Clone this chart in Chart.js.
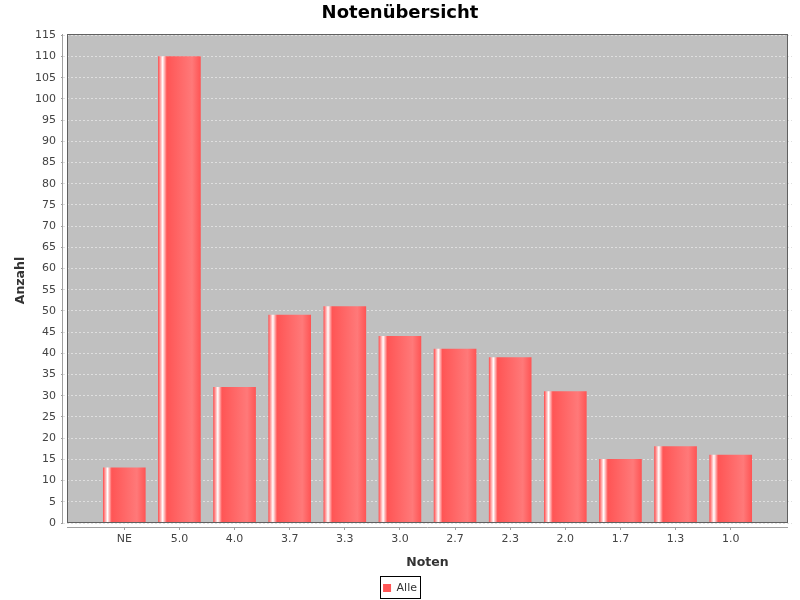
<!DOCTYPE html>
<html>
<head>
<meta charset="utf-8">
<script src="https://cdn.jsdelivr.net/npm/chart.js@4"></script>
<style>
html,body{margin:0;padding:0;background:#fff;}
#wrap{width:800px;height:600px;}
</style>
</head>
<body>
<div id="wrap"><canvas id="c" width="800" height="600"></canvas></div>
<script>
const categories = ['NE','5.0','4.0','3.7','3.3','3.0','2.7','2.3','2.0','1.7','1.3','1.0'];
const counts = [13,110,32,49,51,44,41,39,31,15,18,16];
const yTickValues = [0,5,10,15,20,25,30,35,40,45,50,55,60,65,70,75,80,85,90,95,100,105,110,115];
const seriesName = 'Alle';
const chartTitle = 'Notenübersicht';
const xTitle = 'Noten';
const yTitle = 'Anzahl';

const BASE = '#ff5555';
const LIGHT = '#ff7979';
const BAR_W = 42;
const INSET = 4; // gap between axes and plot area

const plotPlugin = {
  id: 'plotArea',
  beforeDraw(chart) {
    const {ctx, chartArea: a} = chart;
    ctx.save();
    ctx.fillStyle = '#ffffff';
    ctx.fillRect(0, 0, chart.width, chart.height);
    ctx.fillStyle = '#c0c0c0';
    ctx.fillRect(a.left + INSET, a.top, a.right - a.left - 2 * INSET, a.bottom - a.top - INSET);
    ctx.restore();
  },
  afterDatasetsDraw(chart) {
    const {ctx, chartArea: a} = chart;
    ctx.save();
    ctx.strokeStyle = '#606060';
    ctx.lineWidth = 1;
    const l = Math.round(a.left + INSET) + 0.5;
    const r = Math.round(a.right - INSET) - 0.5;
    const t = Math.round(a.top) + 0.5;
    const b = Math.round(a.bottom - INSET) - 0.5;
    ctx.strokeRect(l, t, r - l, b - t);
    // axis lines
    ctx.strokeStyle = '#a0a0a0';
    ctx.beginPath();
    const ax = Math.round(a.left) - 0.5;
    ctx.moveTo(ax, a.top);
    ctx.lineTo(ax, a.bottom - INSET);
    const ay = Math.round(a.bottom) + 0.5;
    ctx.moveTo(a.left + INSET, ay);
    ctx.lineTo(a.right - INSET, ay);
    ctx.stroke();
    ctx.restore();
  },
  afterDraw(chart) {
    const lg = chart.legend;
    if (!lg || !lg.legendHitBoxes || !lg.legendHitBoxes.length) return;
    const hb = lg.legendHitBoxes[0];
    const ctx = chart.ctx;
    ctx.save();
    ctx.strokeStyle = '#000000';
    ctx.lineWidth = 1;
    const x = Math.round(hb.left) - 2.5;
    const y = Math.round(hb.top) - 6.5;
    ctx.strokeRect(x, y, Math.round(hb.width) + 6, 22);
    ctx.restore();
  }
};

function barFill(c) {
  if (c.type !== 'data') return BASE;
  const xs = c.chart.scales.x;
  if (!xs || !c.parsed) return BASE;
  const cx = xs.getPixelForValue(c.parsed.x);
  if (!isFinite(cx)) return BASE;
  const l = cx - BAR_W / 2;
  const g = c.chart.ctx.createLinearGradient(l, 0, l + BAR_W, 0);
  g.addColorStop(0, BASE);
  g.addColorStop(0.1, '#ffffff');
  g.addColorStop(0.2, BASE);
  g.addColorStop(0.8, LIGHT);
  g.addColorStop(1, BASE);
  return g;
}

const tickFont = {family: 'DejaVu Sans', size: 11};
const titleFont = {family: 'DejaVu Sans', size: 12.5, weight: 'bold'};

new Chart(document.getElementById('c'), {
  type: 'bar',
  data: {
    datasets: [{
      label: seriesName,
      data: counts.map((v, i) => ({x: i, y: v})),
      backgroundColor: barFill,
      borderWidth: 0,
      barThickness: BAR_W
    }]
  },
  options: {
    responsive: false,
    animation: false,
    events: [],
    devicePixelRatio: 1,
    layout: {padding: {left: 8, right: 8, top: 0, bottom: -3.5}},
    scales: {
      x: {
        type: 'linear',
        offset: false,
        min: -1.112,
        max: categories.length - 1 + 1.112,
        afterBuildTicks(s) { s.ticks = categories.map((c, i) => ({value: i})); },
        afterFit(s) { s.height = 55.5; },
        ticks: {
          font: tickFont, color: '#444444', padding: 3, maxRotation: 0, autoSkip: false,
          callback: (v) => categories[v]
        },
        grid: {offset: false, drawOnChartArea: false, tickLength: 3, tickColor: '#a0a0a0', lineWidth: 1},
        border: {display: false},
        title: {display: true, text: xTitle, font: titleFont, color: '#333333', padding: {top: 0, bottom: 12.3}}
      },
      y: {
        type: 'linear',
        min: -0.943,
        max: 115.3,
        afterBuildTicks(s) { s.ticks = yTickValues.map(v => ({value: v})); },
        afterFit(s) { s.width = 55; },
        ticks: {font: tickFont, color: '#444444', padding: 5, autoSkip: false},
        grid: {color: '#dfdfdf', lineWidth: 1, tickLength: 2, tickColor: '#a0a0a0', tickBorderDash: []},
        border: {display: false, dash: [2, 2]},
        title: {display: true, text: yTitle, font: titleFont, color: '#333333', padding: {top: 5.5, bottom: 0}}
      }
    },
    plugins: {
      title: {
        display: true, text: chartTitle, color: '#000000',
        font: {family: 'DejaVu Sans', size: 18, weight: 'bold'},
        padding: {top: 2.2, bottom: 10.2}
      },
      legend: {
        display: true, position: 'bottom',
        labels: {boxWidth: 8, boxHeight: 8, padding: 0, color: '#333333', font: {family: 'DejaVu Sans', size: 11}}
      },
      tooltip: {enabled: false}
    }
  },
  plugins: [plotPlugin]
});
</script>
</body>
</html>
